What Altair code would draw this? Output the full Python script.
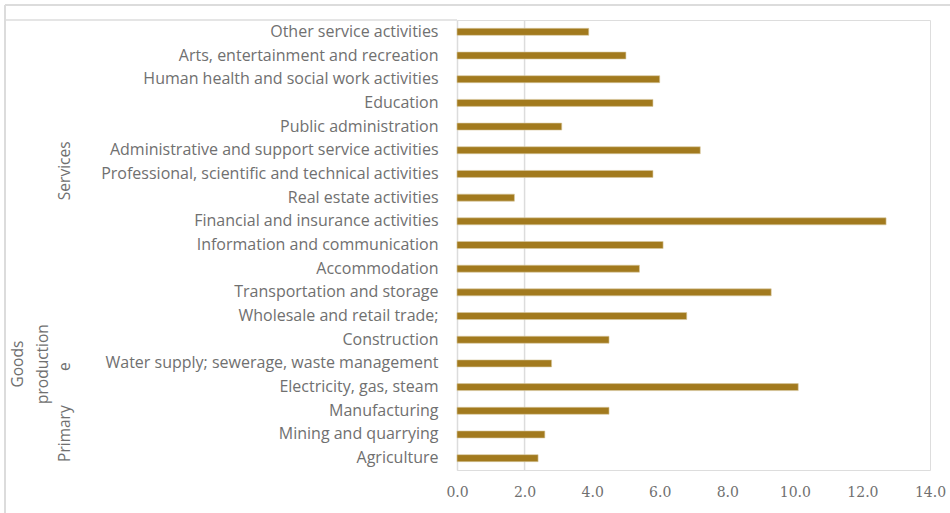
import altair as alt
import pandas as pd

categories = [
    "Other service activities",
    "Arts, entertainment and recreation",
    "Human health and social work activities",
    "Education",
    "Public administration",
    "Administrative and support service activities",
    "Professional, scientific and technical activities",
    "Real estate activities",
    "Financial and insurance activities",
    "Information and communication",
    "Accommodation",
    "Transportation and storage",
    "Wholesale and retail trade;",
    "Construction",
    "Water supply; sewerage, waste management",
    "Electricity, gas, steam",
    "Manufacturing",
    "Mining and quarrying",
    "Agriculture",
]
values = [3.9, 5.0, 6.0, 5.8, 3.1, 7.2, 5.8, 1.7, 12.7, 6.1,
          5.4, 9.3, 6.8, 4.5, 2.8, 10.1, 4.5, 2.6, 2.4]
x_ticks = [0, 2, 4, 6, 8, 10, 12, 14]
grid_values = [2]

# group labels: text, anchor category, horizontal pixel offset from plot left
group_text = ["Services", "Goods", "production", "e", "Primary"]
group_cat = ["Real estate activities", "Water supply; sewerage, waste management",
             "Water supply; sewerage, waste management",
             "Water supply; sewerage, waste management", "Mining and quarrying"]
group_x = [-392, -439, -414, -392, -392]
group_dy = [-15, 12.5, 12.5, 15, 11]

df = pd.DataFrame({"category": categories, "value": values})
gdf = pd.DataFrame({"label": group_text, "category": group_cat, "gx": group_x, "dy": group_dy})
grid_df = pd.DataFrame({"g": grid_values})

LABEL = "#707070"
FRAME = "#dcdcdc"
FONT = "Open Sans"

yenc = alt.Y("category:N", sort=categories, scale=alt.Scale(domain=categories, paddingInner=0.0, paddingOuter=0.0),
             axis=alt.Axis(title=None, ticks=False, domain=True, domainColor=FRAME, domainWidth=1.5,
                           labelPadding=19, labelFontSize=16, labelColor=LABEL, labelFont=FONT,
                           labelLimit=450))
xscale = alt.Scale(domain=[0, 14], nice=False)

bars = alt.Chart(df).mark_bar(color="#A27A1E", size=7, stroke="#d8c9a0", strokeWidth=0.6).encode(
    x=alt.X("value:Q", scale=xscale,
            axis=alt.Axis(title=None, values=x_ticks, format=".1f", grid=False, domain=False, ticks=False,
                          labelFlush=False, labelPadding=15, labelFontSize=14, labelColor=LABEL,
                          labelFont="DejaVu Serif")),
    y=yenc,
)

grid = alt.Chart(grid_df).mark_rule(color=FRAME, strokeWidth=1.5).encode(
    x=alt.X("g:Q", scale=xscale), y=alt.value(0), y2=alt.value(450)
)

groups = alt.Chart(gdf).mark_text(angle=270, fontSize=15.5, color=LABEL, font=FONT,
                                  align="center", baseline="middle").encode(
    x=alt.X("gx:Q", scale=None),
    y=alt.Y("category:N", sort=categories, scale=alt.Scale(domain=categories, paddingInner=0.0, paddingOuter=0.0)),
    yOffset=alt.YOffset("dy:Q", scale=None),
    text="label:N",
)

frame_top = alt.Chart(pd.DataFrame({"k": [0]})).mark_rule(color=FRAME, strokeWidth=2).encode(
    x=alt.value(-452), x2=alt.value(493), y=alt.value(-15))
frame_left = alt.Chart(pd.DataFrame({"k": [0]})).mark_rule(color=FRAME, strokeWidth=2).encode(
    x=alt.value(-452), y=alt.value(-15), y2=alt.value(493))
frame_box = alt.Chart(pd.DataFrame({"k": [0]})).mark_rule(color=FRAME, strokeWidth=1.5).encode(
    x=alt.value(-452), x2=alt.value(0), y=alt.value(0))

chart = alt.layer(grid, bars, groups, frame_top, frame_left, frame_box).properties(
    width=473, height=450,
    padding={"left": 457, "top": 20, "right": 20, "bottom": 43},
    autosize="none",
).configure_view(stroke=None).configure(background="white")

chart.save("out.html", embed_options={"renderer": "svg", "actions": False})
